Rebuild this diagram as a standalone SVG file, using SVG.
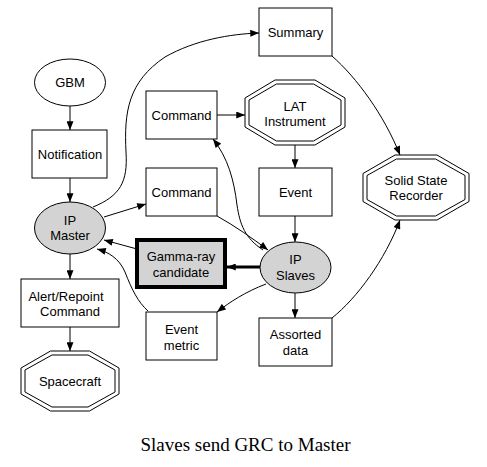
<svg xmlns="http://www.w3.org/2000/svg" width="487" height="467" viewBox="0 0 487 467">
<defs>
<marker id="ah" viewBox="0 0 10 8" refX="10" refY="4" markerWidth="10" markerHeight="7" markerUnits="userSpaceOnUse" orient="auto">
<path d="M0,0 L10,4 L0,8 Z" fill="#000"/>
</marker>
</defs>
<style>
.n{fill:#fff;stroke:#000;stroke-width:1}
.g{fill:#d3d3d3;stroke:#000;stroke-width:1}
.t{font-family:"Liberation Sans",Arial,sans-serif;font-size:13px;text-anchor:middle;fill:#000}
.e{fill:none;stroke:#000;stroke-width:1;marker-end:url(#ah)}
.cap{font-family:"Liberation Serif","Times New Roman",serif;font-size:19px;text-anchor:middle;fill:#000}
</style>
<rect width="487" height="467" fill="#fff"/>
<g id="connectors">
<path class="e" d="M70,106 L70,130"/>
<path class="e" d="M70,178 L70,202"/>
<path class="e" d="M70,254 L70,279"/>
<path class="e" d="M70,327 L70,351"/>
<path class="e" d="M104,217 L146,204"/>
<path class="e" d="M93,207 C120,196 128,182 126,152 C124,112 128,82 165,57 C195,40 230,34 259,33"/>
<path class="e" d="M217,115 L245,115"/>
<path class="e" d="M295,145 L295,168"/>
<path class="e" d="M295,216 L295,242"/>
<path class="e" d="M295,293 L295,318"/>
<path class="e" d="M332,56 C357,78 384,115 400,155"/>
<path class="e" d="M332,318 C357,298 385,260 400,220"/>
<path class="e" d="M260,267 L227,267" style="stroke-width:3"/>
<path class="e" d="M137,249 L104,240"/>
<path class="e" d="M148,311 C138,302 132,290 125,272 C119,258 108,252 97,249"/>
<path class="e" d="M266,284 C245,292 230,302 217,312"/>
<path class="e" d="M217,216 C235,226 252,238 268,250"/>
<path class="e" d="M263,250 C245,238 240,225 237,205 C234,180 228,158 213,139"/>
</g>
<g id="gbm"><ellipse class="n" cx="70" cy="82.5" rx="35.5" ry="23.5"/><text class="t" x="70" y="87">GBM</text></g>
<g id="notification"><rect class="n" x="32" y="130" width="75" height="48"/><text class="t" x="70" y="158.5">Notification</text></g>
<g id="ip-master"><ellipse class="g" cx="70" cy="228" rx="35.5" ry="26"/><text class="t" x="70" y="225">IP</text><text class="t" x="70" y="240">Master</text></g>
<g id="command1"><rect class="n" x="146" y="91" width="71" height="48"/><text class="t" x="181.5" y="119.5">Command</text></g>
<g id="command2"><rect class="n" x="146" y="168" width="71" height="48"/><text class="t" x="181.5" y="196.5">Command</text></g>
<g id="summary"><rect class="n" x="259" y="8" width="73" height="48"/><text class="t" x="295.5" y="36.5">Summary</text></g>
<g id="lat-instrument"><polygon class="n" points="275,80 315,80 345,98 345,127 315,145 275,145 245,127 245,98"/><polygon class="n" points="276.5,84 313.5,84 341,100 341,125 313.5,141 276.5,141 249,125 249,100"/><text class="t" x="295" y="111">LAT</text><text class="t" x="295" y="126">Instrument</text></g>
<g id="event"><rect class="n" x="259" y="168" width="73" height="48"/><text class="t" x="295.5" y="196.5">Event</text></g>
<g id="solid-state-recorder"><polygon class="n" points="395,155 437,155 469,173.5 469,201.5 437,220 395,220 363,201.5 363,173.5"/><polygon class="n" points="396.5,159 435.5,159 465,175.5 465,199.5 435.5,216 396.5,216 367,199.5 367,175.5"/><text class="t" x="416" y="184.5">Solid State</text><text class="t" x="416" y="200">Recorder</text></g>
<g id="ip-slaves"><ellipse class="g" cx="295.5" cy="267.5" rx="35.5" ry="25.5"/><text class="t" x="295.5" y="263.5">IP</text><text class="t" x="295.5" y="279.5">Slaves</text></g>
<g id="gamma-ray-candidate"><rect x="137" y="240" width="88" height="47" fill="#d3d3d3" stroke="#000" stroke-width="4"/><text class="t" x="181" y="261">Gamma-ray</text><text class="t" x="181" y="277">candidate</text></g>
<g id="assorted-data"><rect class="n" x="259" y="318" width="73" height="48"/><text class="t" x="295.5" y="338.5">Assorted</text><text class="t" x="295.5" y="354.5">data</text></g>
<g id="alert-repoint-command"><rect class="n" x="21" y="279" width="98" height="48"/><text class="t" x="66" y="300.5">Alert/Repoint</text><text class="t" x="70" y="315.5">Command</text></g>
<g id="event-metric"><rect class="n" x="146" y="312" width="71" height="48"/><text class="t" x="181.5" y="333.5">Event</text><text class="t" x="181.5" y="349.5">metric</text></g>
<g id="spacecraft"><polygon class="n" points="50.5,351 89.5,351 119,368 119,394 89.5,411 50.5,411 21,394 21,368"/><polygon class="n" points="52,355 88,355 115,370 115,392 88,407 52,407 25,392 25,370"/><text class="t" x="70" y="385.5">Spacecraft</text></g>
<text class="cap" x="245.5" y="451">Slaves send GRC to Master</text>
</svg>
